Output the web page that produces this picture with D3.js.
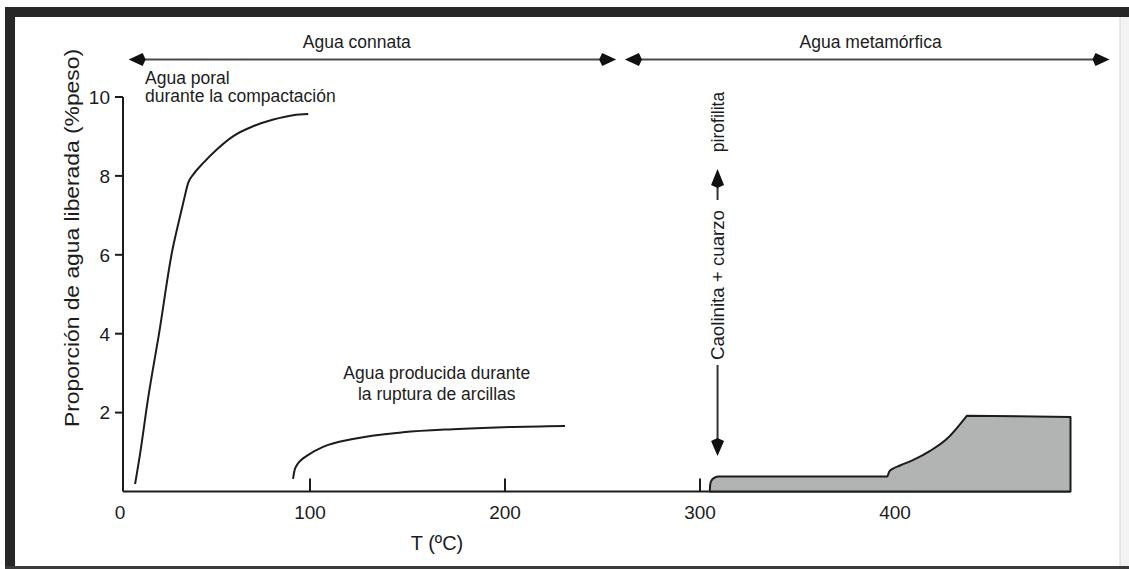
<!DOCTYPE html>
<html><head><meta charset="utf-8">
<script src="https://cdn.jsdelivr.net/npm/d3@7"></script>
<style>
html,body{margin:0;padding:0;background:#fff;}
svg{display:block;font-family:"Liberation Sans",Arial,Helvetica,sans-serif;}
</style></head><body>
<svg id="chart" width="1129" height="569"></svg>
<script>
// ---- data ----
const xTicks = [0, 100, 200, 300, 400];
const yTicks = [2, 4, 6, 8, 10];
const poralT = [10.3, 13, 16.9, 22.6, 29.2, 33, 35, 37.6, 40.2, 45.3, 52.2, 60.7, 70.9, 81.2, 91.4, 99.1];
const poralV = [0.19, 1.0, 2.34, 4.01, 6.06, 6.9, 7.32, 7.83, 8.04, 8.33, 8.67, 9.01, 9.26, 9.43, 9.54, 9.57];
const arcillaT = [91.3, 92.0, 93.3, 95.5, 98.5, 106.7, 122, 147.7, 173.3, 199, 230.8];
const arcillaV = [0.32, 0.52, 0.67, 0.80, 0.91, 1.13, 1.33, 1.50, 1.58, 1.63, 1.66];
const metaT = [305, 305.3, 306.2, 307.5, 309.5, 396, 397, 399, 402.6, 409.4, 418, 426.5, 436.8, 490];
const metaV = [0, 0.2, 0.3, 0.35, 0.38, 0.38, 0.5, 0.58, 0.66, 0.8, 1.03, 1.33, 1.92, 1.89];
const eraLabels = ["Agua connata", "Agua metamórfica"];
const eraFrom = [7, 261.5];
const eraTo = [257, 510];
const eraLabelT = [124, 387.5];
const poralLabel = ["Agua poral", "durante la compactación"];
const arcillaLabel = ["Agua producida durante", "la ruptura de arcillas"];
const reactionLabels = ["Caolinita + cuarzo", "pirofilita"];
const reactionT = 309;

// ---- layout ----
const svg = d3.select("#chart");
const x = d3.scaleLinear().domain([0, 500]).range([115, 1090]);
const y = d3.scaleLinear().domain([0, 10]).range([491.5, 97]);
const axisX0 = 123;
const ink = "#1c1c1c";

// frame
svg.append("rect").attr("x", 0).attr("y", 0).attr("width", 1129).attr("height", 569).attr("fill", "#fff");
svg.append("rect").attr("x", 5).attr("y", 7).attr("width", 1124).attr("height", 10).attr("fill", "#272727");
svg.append("rect").attr("x", 5).attr("y", 7).attr("width", 10).attr("height", 562).attr("fill", "#272727");
svg.append("rect").attr("x", 1120).attr("y", 17).attr("width", 9).attr("height", 552).attr("fill", "#f3f3f3");
svg.append("line").attr("x1", 1120).attr("x2", 1120).attr("y1", 17).attr("y2", 569).attr("stroke", "#d6d6d6").attr("stroke-width", 1);
svg.append("rect").attr("x", 5).attr("y", 566).attr("width", 1124).attr("height", 3).attr("fill", "#3a3a3a");

// axes
const g = svg.append("g");
g.append("line").attr("x1", axisX0).attr("x2", x(490)).attr("y1", y(0)).attr("y2", y(0))
  .attr("stroke", ink).attr("stroke-width", 2);
g.append("line").attr("x1", axisX0).attr("x2", axisX0).attr("y1", y(0)).attr("y2", y(10))
  .attr("stroke", ink).attr("stroke-width", 2);

// y ticks
yTicks.forEach(v => {
  g.append("line").attr("x1", axisX0 - 8).attr("x2", axisX0).attr("y1", y(v)).attr("y2", y(v))
    .attr("stroke", ink).attr("stroke-width", 2);
  g.append("text").attr("x", axisX0 - 13).attr("y", y(v)).attr("dy", "0.36em")
    .attr("text-anchor", "end").attr("font-size", 19).attr("fill", ink).text(v);
});
// x ticks
xTicks.forEach(t => {
  if (t > 0) {
    g.append("line").attr("x1", x(t)).attr("x2", x(t)).attr("y1", y(0)).attr("y2", y(0) - 13)
      .attr("stroke", ink).attr("stroke-width", 2);
  }
  g.append("text").attr("x", x(t) + (t === 0 ? 5 : 0)).attr("y", 519)
    .attr("text-anchor", "middle").attr("font-size", 19).attr("fill", ink).text(t);
});

// axis titles
svg.append("text").attr("x", 437).attr("y", 550).attr("text-anchor", "middle")
  .attr("font-size", 20).attr("fill", ink).text("T (ºC)");
svg.append("text").attr("transform", "translate(79,238) rotate(-90)")
  .attr("text-anchor", "middle").attr("font-size", 19.5).attr("fill", ink)
  .attr("textLength", 378).attr("lengthAdjust", "spacingAndGlyphs")
  .text("Proporción de agua liberada (%peso)");

// metamorphic area (drawn over the axis): smooth rise, sharp top corner, flat top
const nRise = metaT.length - 1;
const riseIdx = d3.range(nRise);
const areaTop = d3.line().curve(d3.curveMonotoneX).x(i => x(metaT[i])).y(i => y(metaV[i]))(riseIdx);
svg.append("path")
  .attr("d", areaTop + `L${x(metaT[nRise])},${y(metaV[nRise])}L${x(metaT[nRise])},${y(0)}Z`)
  .attr("fill", "#b2b4b3").attr("stroke", ink).attr("stroke-width", 2).attr("stroke-linejoin", "round");

// curves
const curve = (T, V) => d3.line().curve(d3.curveMonotoneX).x((d, i) => x(T[i])).y((d, i) => y(V[i]))(T);
svg.append("path").attr("d", curve(poralT, poralV)).attr("fill", "none").attr("stroke", ink).attr("stroke-width", 2);
svg.append("path").attr("d", curve(arcillaT, arcillaV)).attr("fill", "none").attr("stroke", ink).attr("stroke-width", 2);

// arrowhead helper
function head(px, py, dx, dy, len, half) {
  const nx = -dy, ny = dx;
  const bx = px - dx * len, by = py - dy * len;
  svg.append("path").attr("d",
    `M${px},${py}L${bx + nx * half},${by + ny * half}L${bx - dx * 3},${by - dy * 3}L${bx - nx * half},${by - ny * half}Z`)
    .attr("fill", "#111");
}

// era arrows
const eraY = 59.5;
eraLabels.forEach((lab, i) => {
  const x1 = x(eraFrom[i]), x2 = x(eraTo[i]);
  svg.append("line").attr("x1", x1 + 10).attr("x2", x2 - 10).attr("y1", eraY).attr("y2", eraY)
    .attr("stroke", "#4a4a4a").attr("stroke-width", 2.2);
  head(x1, eraY, -1, 0, 14, 6.5);
  head(x2, eraY, 1, 0, 14, 6.5);
  svg.append("text").attr("x", x(eraLabelT[i])).attr("y", 47.5).attr("text-anchor", "middle")
    .attr("font-size", 17.5).attr("fill", ink).text(lab);
});

// annotations
poralLabel.forEach((s, i) => {
  svg.append("text").attr("x", x(15.4)).attr("y", 84 + i * 18).attr("font-size", 17.5)
    .attr("fill", ink).text(s);
});
arcillaLabel.forEach((s, i) => {
  svg.append("text").attr("x", x(165)).attr("y", 379 + i * 21).attr("text-anchor", "middle")
    .attr("font-size", 17.5).attr("fill", ink).text(s);
});

// reaction arrow
const rx = x(reactionT);
svg.append("line").attr("x1", rx).attr("x2", rx).attr("y1", 365).attr("y2", 444)
  .attr("stroke", "#333").attr("stroke-width", 2);
head(rx, 456, 0, 1, 15, 6.5);
svg.append("line").attr("x1", rx).attr("x2", rx).attr("y1", 200).attr("y2", 182)
  .attr("stroke", "#333").attr("stroke-width", 2);
head(rx, 169, 0, -1, 16, 6.5);
svg.append("text").attr("transform", `translate(${rx + 6},285) rotate(-90)`)
  .attr("text-anchor", "middle").attr("font-size", 17.5).attr("fill", ink)
  .attr("textLength", 150).attr("lengthAdjust", "spacingAndGlyphs").text(reactionLabels[0]);
svg.append("text").attr("transform", `translate(${rx + 6},122) rotate(-90)`)
  .attr("text-anchor", "middle").attr("font-size", 17.5).attr("fill", ink).text(reactionLabels[1]);
</script>
</body></html>
